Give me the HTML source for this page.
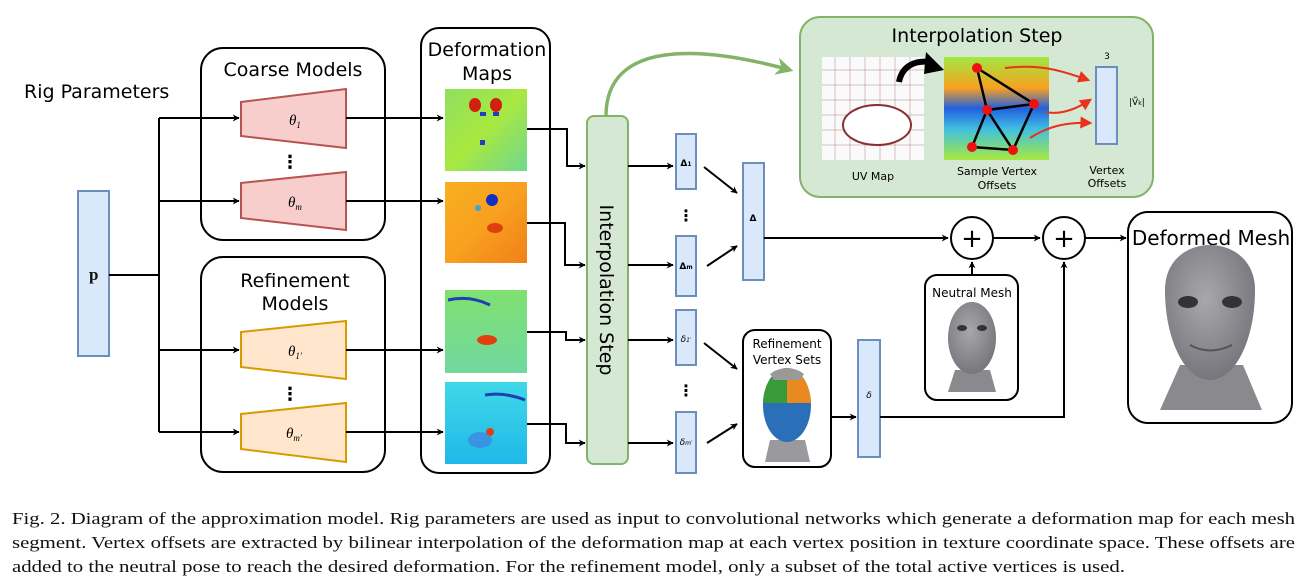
<!DOCTYPE html>
<html><head><meta charset="utf-8"><style>
html,body{margin:0;padding:0;background:#fff;}
svg{display:block;}
text{font-family:"DejaVu Sans","Liberation Sans",sans-serif;}
.cap{font-family:"Liberation Serif",serif;font-size:17px;fill:#111;}
.th{font-family:"Liberation Serif",serif;font-style:italic;font-size:15px;}
</style></head><body>
<svg width="1310" height="583" viewBox="0 0 1310 583" xmlns="http://www.w3.org/2000/svg">
<defs>
<marker id="a" viewBox="0 0 10 10" refX="9" refY="5" markerWidth="7" markerHeight="7" markerUnits="userSpaceOnUse" orient="auto"><path d="M0,0 L10,5 L0,10 L3,5 z" fill="#000"/></marker>
<marker id="g" viewBox="0 0 10 10" refX="8" refY="5" markerWidth="5" markerHeight="5" orient="auto"><path d="M0,0 L10,5 L0,10 L3,5 z" fill="#82b366"/></marker>
<marker id="r" viewBox="0 0 10 10" refX="8" refY="5" markerWidth="6" markerHeight="6" orient="auto"><path d="M0,0 L10,5 L0,10 z" fill="#e8321c"/></marker>
<linearGradient id="h1" x1="0" y1="0" x2="1" y2="1"><stop offset="0" stop-color="#8fe060"/><stop offset=".5" stop-color="#a8e840"/><stop offset="1" stop-color="#70d890"/></linearGradient>
<linearGradient id="h2" x1="0" y1="0" x2="1" y2="1"><stop offset="0" stop-color="#f8b020"/><stop offset=".5" stop-color="#f8a020"/><stop offset="1" stop-color="#f08018"/></linearGradient>
<linearGradient id="h3" x1="0" y1="0" x2="0" y2="1"><stop offset="0" stop-color="#80e070"/><stop offset="1" stop-color="#70d8a0"/></linearGradient>
<linearGradient id="h4" x1="0" y1="0" x2="0" y2="1"><stop offset="0" stop-color="#40d8e8"/><stop offset="1" stop-color="#20b8e8"/></linearGradient>
<linearGradient id="sv" x1="0" y1="0" x2="0" y2="1"><stop offset="0" stop-color="#a0e840"/><stop offset=".3" stop-color="#f8a020"/><stop offset=".5" stop-color="#2060e0"/><stop offset=".7" stop-color="#40c0e0"/><stop offset="1" stop-color="#a8e840"/></linearGradient>
<radialGradient id="face" cx=".45" cy=".4" r=".6"><stop offset="0" stop-color="#a8a8ac"/><stop offset="1" stop-color="#76767c"/></radialGradient>
</defs>

<text x="24" y="98" font-size="19">Rig Parameters</text>
<rect x="78" y="191" width="31" height="165" fill="#dae8fc" stroke="#6c8ebf" stroke-width="2"/>
<text x="89" y="280" class="cap" font-weight="bold" font-size="16">p</text>

<rect x="201" y="48" width="184" height="192" rx="22" fill="none" stroke="#000" stroke-width="2"/>
<text x="293" y="76" font-size="19" text-anchor="middle">Coarse Models</text>
<rect x="201" y="257" width="184" height="215" rx="22" fill="none" stroke="#000" stroke-width="2"/>
<text x="295" y="287" font-size="19" text-anchor="middle">Refinement</text>
<text x="295" y="310" font-size="19" text-anchor="middle">Models</text>
<rect x="421" y="28" width="129" height="445" rx="18" fill="none" stroke="#000" stroke-width="2"/>
<text x="487" y="56" font-size="19" text-anchor="middle">Deformation</text>
<text x="487" y="80" font-size="19" text-anchor="middle">Maps</text>

<polygon points="241,102 346,89 346,148 241,136" fill="#f8cecc" stroke="#b85450" stroke-width="2"/>
<polygon points="241,183 346,172 346,230 241,218" fill="#f8cecc" stroke="#b85450" stroke-width="2"/>
<polygon points="241,332 346,321 346,379 241,367" fill="#ffe6cc" stroke="#d79b00" stroke-width="2"/>
<polygon points="241,414 346,403 346,462 241,449" fill="#ffe6cc" stroke="#d79b00" stroke-width="2"/>
<text x="289" y="125" class="th">θ<tspan font-size="9" dy="3">1</tspan></text>
<text x="288" y="207" class="th">θ<tspan font-size="9" dy="3">m</tspan></text>
<text x="288" y="356" class="th">θ<tspan font-size="9" dy="3">1′</tspan></text>
<text x="286" y="438" class="th">θ<tspan font-size="9" dy="3">m′</tspan></text>
<text x="290" y="168" font-size="18" font-weight="bold" text-anchor="middle">⋮</text>
<text x="290" y="400" font-size="18" font-weight="bold" text-anchor="middle">⋮</text>

<g fill="none" stroke="#000" stroke-width="2">
<path d="M109,275 H159"/>
<path d="M159,118 V432"/>
<path d="M159,118 H239" marker-end="url(#a)"/>
<path d="M159,201 H239" marker-end="url(#a)"/>
<path d="M159,350 H239" marker-end="url(#a)"/>
<path d="M159,432 H239" marker-end="url(#a)"/>
<path d="M346,118 H443" marker-end="url(#a)"/>
<path d="M346,201 H443" marker-end="url(#a)"/>
<path d="M346,350 H443" marker-end="url(#a)"/>
<path d="M346,432 H443" marker-end="url(#a)"/>
<path d="M527,129 H567 V166 H585" marker-end="url(#a)"/>
<path d="M527,223 H565 V265 H585" marker-end="url(#a)"/>
<path d="M527,332 H566 V340 H585" marker-end="url(#a)"/>
<path d="M527,424 H566 V443 H585" marker-end="url(#a)"/>
</g>

<rect x="445" y="89" width="82" height="82" fill="url(#h1)"/>
<g fill="#d02010"><ellipse cx="475" cy="105" rx="6" ry="7"/><ellipse cx="496" cy="105" rx="6" ry="7"/></g>
<g fill="#2040c0"><rect x="480" y="112" width="6" height="4"/><rect x="493" y="112" width="6" height="4"/><rect x="480" y="140" width="5" height="5"/></g>
<rect x="445" y="182" width="82" height="81" fill="url(#h2)"/>
<circle cx="492" cy="200" r="6" fill="#1030c0"/><circle cx="478" cy="208" r="3" fill="#40a0e0"/><ellipse cx="495" cy="228" rx="8" ry="5" fill="#e04010"/>
<rect x="445" y="290" width="82" height="83" fill="url(#h3)"/>
<path d="M448,300 Q470,295 490,305" stroke="#2040b0" stroke-width="3" fill="none"/><ellipse cx="487" cy="340" rx="10" ry="5" fill="#e04010"/>
<rect x="445" y="382" width="82" height="82" fill="url(#h4)"/>
<path d="M485,395 Q505,392 525,400" stroke="#2040b0" stroke-width="3" fill="none"/><circle cx="490" cy="432" r="4" fill="#e04010"/><ellipse cx="480" cy="440" rx="12" ry="8" fill="#4080e0" opacity=".7"/>

<rect x="587" y="116" width="41" height="348" rx="7" fill="#d5e8d4" stroke="#82b366" stroke-width="2"/>
<text transform="translate(600,290) rotate(90)" font-size="19" text-anchor="middle">Interpolation Step</text>
<path d="M606,116 C606,40 700,45 790,70" fill="none" stroke="#82b366" stroke-width="3.5" marker-end="url(#g)"/>

<g fill="#dae8fc" stroke="#6c8ebf" stroke-width="2">
<rect x="676" y="134" width="20" height="55"/>
<rect x="676" y="236" width="20" height="60"/>
<rect x="676" y="310" width="20" height="55"/>
<rect x="676" y="412" width="20" height="61"/>
<rect x="743" y="163" width="21" height="117"/>
<rect x="858" y="340" width="22" height="117"/>
</g>
<g font-family="Liberation Serif,serif" font-size="9" font-weight="bold" text-anchor="middle">
<text x="686" y="166">Δ<tspan font-size="6">1</tspan></text>
<text x="686" y="269">Δ<tspan font-size="6">m</tspan></text>
<text x="753" y="221">Δ</text>
</g>
<g font-family="Liberation Serif,serif" font-size="9" font-style="italic" text-anchor="middle">
<text x="686" y="342">δ<tspan font-size="6">1′</tspan></text>
<text x="686" y="445">δ<tspan font-size="6">m′</tspan></text>
<text x="869" y="398">δ</text>
</g>
<text x="686" y="221" font-size="16" font-weight="bold" text-anchor="middle">⋮</text>
<text x="686" y="396" font-size="16" font-weight="bold" text-anchor="middle">⋮</text>
<g fill="none" stroke="#000" stroke-width="2">
<path d="M628,166 H673" marker-end="url(#a)"/>
<path d="M628,265 H673" marker-end="url(#a)"/>
<path d="M628,340 H673" marker-end="url(#a)"/>
<path d="M628,443 H673" marker-end="url(#a)"/>
<path d="M704,167 L737,193" marker-end="url(#a)"/>
<path d="M707,266 L737,246" marker-end="url(#a)"/>
<path d="M704,343 L737,369" marker-end="url(#a)"/>
<path d="M707,443 L737,424" marker-end="url(#a)"/>
<path d="M764,238 H948" marker-end="url(#a)"/>
<path d="M993,238 H1040" marker-end="url(#a)"/>
<path d="M1085,238 H1126" marker-end="url(#a)"/>
<path d="M972,275 V262" marker-end="url(#a)"/>
<path d="M831,417 H856" marker-end="url(#a)"/>
<path d="M880,417 H1064 V262" marker-end="url(#a)"/>
</g>
<circle cx="972" cy="238" r="21" fill="#fff" stroke="#000" stroke-width="2"/>
<circle cx="1064" cy="238" r="21" fill="#fff" stroke="#000" stroke-width="2"/>
<text x="972" y="247" font-size="26" text-anchor="middle">+</text>
<text x="1064" y="247" font-size="26" text-anchor="middle">+</text>

<rect x="800" y="17" width="353" height="180" rx="20" fill="#d5e8d4" stroke="#82b366" stroke-width="2"/>
<text x="977" y="42" font-size="19" text-anchor="middle">Interpolation Step</text>
<rect x="822" y="57" width="102" height="103" fill="#fafafa"/>
<g stroke="#b08080" stroke-width=".5" fill="none">
<path d="M822,70 H924 M822,85 H924 M822,100 H924 M822,115 H924 M822,130 H924 M822,145 H924 M835,57 V160 M850,57 V160 M865,57 V160 M880,57 V160 M895,57 V160 M910,57 V160"/>
</g>
<ellipse cx="877" cy="125" rx="34" ry="20" fill="#fff" stroke="#8a3030" stroke-width="2"/>
<path d="M899,82 C902,66 915,60 930,62" fill="none" stroke="#000" stroke-width="6"/>
<polygon points="926,52 944,70 924,74" fill="#000"/>
<rect x="944" y="57" width="105" height="103" fill="url(#sv)"/>
<g stroke="#000" stroke-width="2.5" fill="none"><path d="M977,68 L1034,104 L987,110 Z M987,110 L972,147 L1013,150 L1034,104 M987,110 L1013,150"/></g>
<g fill="#ee1111"><circle cx="977" cy="68" r="5"/><circle cx="1034" cy="104" r="5"/><circle cx="987" cy="110" r="5"/><circle cx="972" cy="147" r="5"/><circle cx="1013" cy="150" r="5"/></g>
<g stroke="#e8321c" stroke-width="2" fill="none">
<path d="M1005,68 C1040,64 1060,70 1088,80" marker-end="url(#r)"/>
<path d="M1045,112 C1060,115 1075,110 1090,100" marker-end="url(#r)"/>
<path d="M1030,138 C1050,125 1070,122 1090,123" marker-end="url(#r)"/>
</g>
<rect x="1096" y="67" width="21" height="77" fill="#dae8fc" stroke="#6c8ebf" stroke-width="2"/>
<text x="1107" y="59" font-size="9" text-anchor="middle">3</text>
<text x="1129" y="105" font-size="9" font-family="Liberation Serif,serif">|Ṽ<tspan font-size="6">k</tspan>|</text>
<text x="873" y="180" font-size="11" text-anchor="middle" font-family="Liberation Sans,sans-serif">UV Map</text>
<text x="997" y="175" font-size="11" text-anchor="middle" font-family="Liberation Sans,sans-serif">Sample Vertex</text>
<text x="997" y="189" font-size="11" text-anchor="middle" font-family="Liberation Sans,sans-serif">Offsets</text>
<text x="1107" y="174" font-size="11" text-anchor="middle" font-family="Liberation Sans,sans-serif">Vertex</text>
<text x="1107" y="187" font-size="11" text-anchor="middle" font-family="Liberation Sans,sans-serif">Offsets</text>

<rect x="743" y="330" width="88" height="137" rx="12" fill="#fff" stroke="#000" stroke-width="2"/>
<text x="787" y="348" font-size="12" text-anchor="middle">Refinement</text>
<text x="787" y="364" font-size="12" text-anchor="middle">Vertex Sets</text>
<path d="M770,440 L765,462 H810 L805,440 Z" fill="#9a9a9e"/>
<ellipse cx="787" cy="405" rx="24" ry="37" fill="#2a6fb8"/>
<path d="M763,403 A24,37 0 0 1 787,368 V403 Z" fill="#3a9a3a"/>
<path d="M811,403 A24,37 0 0 0 787,368 V403 Z" fill="#e88a20"/>
<path d="M770,374 A24,20 0 0 1 804,374 L800,380 H774 Z" fill="#999"/>

<rect x="925" y="275" width="93" height="125" rx="12" fill="#fff" stroke="#000" stroke-width="2"/>
<text x="972" y="297" font-size="12" text-anchor="middle">Neutral Mesh</text>
<path d="M955,370 L948,392 H996 L990,370 Z" fill="#8a8a8e"/>
<ellipse cx="972" cy="338" rx="24" ry="36" fill="url(#face)"/>
<ellipse cx="962" cy="328" rx="5" ry="3" fill="#333"/><ellipse cx="982" cy="328" rx="5" ry="3" fill="#333"/>

<rect x="1128" y="212" width="164" height="211" rx="20" fill="#fff" stroke="#000" stroke-width="2"/>
<text x="1211" y="245" font-size="20" text-anchor="middle">Deformed Mesh</text>
<path d="M1180,365 L1160,410 H1262 L1243,365 Z" fill="#8a8a8e"/>
<path d="M1165,290 C1165,230 1255,230 1255,290 C1255,340 1235,380 1210,380 C1185,380 1165,340 1165,290 Z" fill="url(#face)"/>
<ellipse cx="1188" cy="302" rx="10" ry="6" fill="#333"/><ellipse cx="1232" cy="302" rx="10" ry="6" fill="#333"/>
<path d="M1190,345 Q1210,356 1232,345" stroke="#555" stroke-width="2" fill="none"/>

<text class="cap" x="12" y="524" textLength="1283" lengthAdjust="spacingAndGlyphs">Fig. 2.  Diagram of the approximation model. Rig parameters are used as input to convolutional networks which generate a deformation map for each mesh</text>
<text class="cap" x="12" y="548" textLength="1283" lengthAdjust="spacingAndGlyphs">segment. Vertex offsets are extracted by bilinear interpolation of the deformation map at each vertex position in texture coordinate space. These offsets are</text>
<text class="cap" x="12" y="572" textLength="1113" lengthAdjust="spacingAndGlyphs">added to the neutral pose to reach the desired deformation. For the refinement model, only a subset of the total active vertices is used.</text>
</svg>
</body></html>
